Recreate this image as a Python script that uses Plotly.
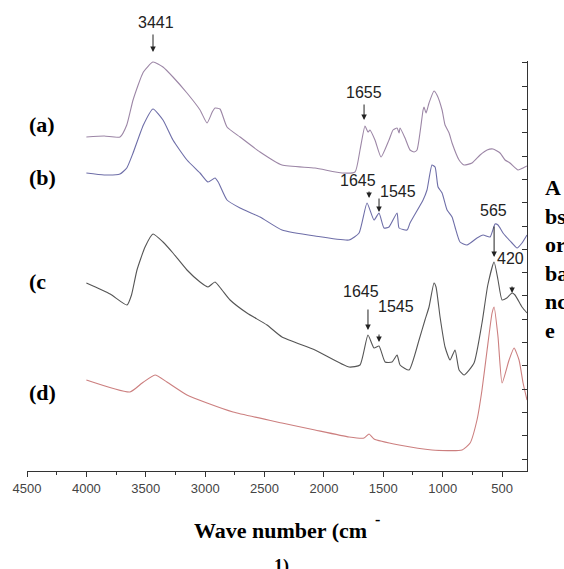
import plotly.graph_objects as go

# ---- data (wavenumber cm^-1, absorbance in arbitrary offset units) ----
wn_a = [4000, 3850, 3717, 3660, 3607, 3520, 3439, 3355, 3271, 3153, 3043, 2984, 2940, 2917, 2875, 2816, 2706, 2538, 2353,
        2075, 1847, 1738, 1696, 1654, 1629, 1612, 1570, 1519, 1452, 1418, 1384, 1367, 1359, 1317, 1275, 1241, 1216,
        1165, 1157, 1140, 1115, 1073, 1048, 1005, 980, 946, 921, 862, 820, 753, 685, 626, 576, 517, 475, 433, 365, 323, 290]
ab_a = [33.4, 33.5, 33.4, 34.6, 37.1, 39.9, 40.9, 40.4, 39.4, 37.8, 36.1, 34.8, 35.9, 36.3, 36.2, 34.4, 33.4, 31.9, 30.6,
        30.3, 29.8, 29.9, 32.1, 34.5, 33.9, 34.1, 33.1, 31.4, 33.1, 34.1, 34.3, 33.8, 34.3, 33.3, 32.1, 31.9, 32.1,
        36.1, 36.4, 35.8, 36.8, 38.0, 37.6, 36.1, 34.6, 33.8, 32.8, 31.1, 30.6, 30.8, 31.6, 32.1, 32.2, 31.8, 31.1, 30.8, 30.1, 30.3, 30.5]

wn_b = [4000, 3850, 3717, 3660, 3607, 3520, 3439, 3355, 3271, 3153, 3043, 2976, 2917, 2890, 2816, 2706, 2538, 2353,
        2075, 1788, 1704, 1637, 1578, 1536, 1494, 1452, 1384, 1367, 1300, 1275, 1165, 1132, 1090, 1064, 1039, 1005,
        963, 921, 896, 854, 795, 711, 660, 601, 559, 534, 492, 416, 374, 332, 290]
ab_b = [29.8, 29.6, 29.7, 30.3, 31.8, 34.6, 36.2, 35.1, 33.1, 31.1, 29.8, 28.9, 29.3, 28.9, 27.1, 26.3, 25.4, 24.1,
        23.5, 23.1, 23.8, 26.8, 25.1, 25.8, 24.3, 24.4, 25.8, 24.3, 24.1, 24.8, 27.1, 28.1, 30.6, 30.4, 28.4, 27.8,
        26.1, 25.4, 24.4, 22.9, 22.6, 23.3, 23.6, 23.4, 24.7, 24.6, 23.8, 22.8, 22.3, 22.8, 23.6]

wn_c = [4000, 3800, 3658, 3620, 3574, 3506, 3439, 3355, 3271, 3153, 3043, 2976, 2917, 2858, 2790, 2648, 2479, 2353,
        2075, 1788, 1696, 1629, 1578, 1536, 1485, 1426, 1384, 1359, 1283, 1199, 1149, 1115, 1073, 1056, 1022, 980,
        938, 896, 862, 820, 736, 669, 620, 567, 534, 500, 460, 416, 391, 332, 290]
ab_c = [18.8, 17.7, 16.6, 17.6, 20.1, 22.4, 23.7, 22.9, 21.8, 20.1, 18.9, 18.4, 18.9, 18.1, 17.1, 15.8, 14.6, 13.4,
        12.1, 10.4, 10.6, 13.6, 12.3, 12.5, 10.9, 10.9, 11.6, 10.6, 10.1, 13.1, 15.1, 16.4, 18.8, 18.4, 15.4, 12.4,
        11.1, 12.1, 10.1, 9.6, 10.8, 14.8, 18.6, 20.9, 19.1, 17.1, 17.3, 17.8, 17.6, 16.4, 15.8]

wn_d = [4000, 3633, 3530, 3422, 3322, 3153, 2984, 2765, 2353, 2075, 1788, 1662, 1620, 1578, 1367, 1090, 837, 769,
        711, 669, 626, 584, 567, 534, 500, 441, 399, 357, 323, 290]
ab_d = [9.1, 7.9, 8.8, 9.6, 8.9, 7.6, 6.8, 5.9, 4.8, 4.1, 3.4, 3.3, 3.7, 3.2, 2.6, 2.1, 2.1, 2.8,
        5.1, 8.1, 12.1, 15.8, 16.4, 13.4, 8.8, 11.1, 12.3, 11.1, 8.8, 7.1]

# peak labels: (text, text x, text y) and arrows: (tip x, tip y, length px)
peak_text = ["1655", "1645", "1545", "565", "420", "1645", "1545"]
peak_tx = [1662, 1713, 1376, 576, 433, 1687, 1393]
peak_ty = [37.9, 29.1, 28.0, 26.1, 21.3, 18.0, 16.5]
arrow_x = [1662, 1620, 1536, 567, 416, 1629, 1536]
arrow_y = [35.1, 27.3, 25.9, 21.4, 17.8, 14.1, 12.9]
arrow_len = [17, 8, 15, 32, 8, 22, 9]
# the 3441 label sits above the plotting area (paper coordinates)
top_peak_text = "3441"
top_peak_tx, top_peak_ty = 0.258, 1.095
top_arrow_x, top_arrow_y, top_arrow_len = 0.252, 1.022, 19

sample_labels = ["(a)", "(b)", "(c", "(d)"]
sample_label_y = [34.7, 29.4, 19.0, 7.9]

x_ticks = [4500, 4000, 3500, 3000, 2500, 2000, 1500, 1000, 500]

colors = ["#9c86a6", "#6e6ea8", "#555555", "#cc7f7f"]

fig = go.Figure()
for wn, ab, col in zip([wn_a, wn_b, wn_c, wn_d], [ab_a, ab_b, ab_c, ab_d], colors):
    fig.add_trace(go.Scatter(x=wn, y=ab, mode="lines",
                             line=dict(color=col, width=1.1, shape="spline", smoothing=0.5),
                             showlegend=False, hoverinfo="skip", cliponaxis=False))

num_font = dict(family="Liberation Sans, Arial", size=16, color="#222")
serif = dict(family="Liberation Serif", size=22, color="#000")

ann = []
for t, tx, ty in zip(peak_text, peak_tx, peak_ty):
    ann.append(dict(x=tx, y=ty, text=t, showarrow=False, font=num_font,
                    xanchor="center", yanchor="middle"))
for axv, ayv, ln in zip(arrow_x, arrow_y, arrow_len):
    ann.append(dict(x=axv, y=ayv, text="", showarrow=True, ax=0, ay=-ln,
                    arrowhead=2, arrowsize=1.1, arrowwidth=1, arrowcolor="#222", standoff=0))
ann.append(dict(x=top_peak_tx, y=top_peak_ty, xref="paper", yref="paper", text=top_peak_text,
                xanchor="center", yanchor="middle", showarrow=False, font=num_font))
ann.append(dict(x=top_arrow_x, y=top_arrow_y, xref="paper", yref="paper", text="", showarrow=True,
                ax=0, ay=-top_arrow_len, arrowhead=2, arrowsize=1.1, arrowwidth=1, arrowcolor="#222", standoff=0))
for t, ty in zip(sample_labels, sample_label_y):
    ann.append(dict(x=0.0, xref="paper", xanchor="left", y=ty, yref="y", yanchor="middle",
                    text="<b>" + t + "</b>", showarrow=False, font=serif))
# axis titles
ann.append(dict(x=1.032, y=0.517, xref="paper", yref="paper", xanchor="left", yanchor="middle",
                text="<b>A<br>bs<br>or<br>ba<br>nc<br>e</b>", align="left", showarrow=False, font=serif))
ann.append(dict(x=0.506, y=-0.144, xref="paper", yref="paper", xanchor="center", yanchor="middle",
                text="<b>Wave number (cm</b>", showarrow=False, font=serif))
ann.append(dict(x=0.70, y=-0.118, xref="paper", yref="paper", xanchor="center", yanchor="middle",
                text="<b>-</b>", showarrow=False, font=dict(family="Liberation Serif", size=16, color="#000")))
ann.append(dict(x=0.508, y=-0.232, xref="paper", yref="paper", xanchor="center", yanchor="middle",
                text="<b>1)</b>", showarrow=False, font=dict(family="Liberation Serif", size=18, color="#000")))

fig.update_layout(
    width=564, height=569,
    margin=dict(l=27, r=37, t=61, b=98, autoexpand=False),
    paper_bgcolor="white", plot_bgcolor="white",
    annotations=ann,
    xaxis=dict(range=[4500, 290], tickvals=x_ticks, ticktext=[str(v) for v in x_ticks],
               showline=True, linecolor="#333", linewidth=1.3, mirror=False,
               ticks="outside", ticklen=5, tickcolor="#333", tickwidth=1.2,
               minor=dict(ticks="outside", ticklen=3, dtick=250, tick0=250, tickcolor="#333", tickwidth=1.2),
               showgrid=False, zeroline=False,
               tickfont=dict(family="Liberation Sans, Arial", size=13, color="#444")),
    yaxis=dict(range=[0, 41], side="right", showline=True, linecolor="#333", linewidth=1.3,
               ticks="inside", ticklen=5, tickcolor="#333", tickwidth=1.2,
               tick0=1.2, dtick=2.33, showticklabels=False, showgrid=False, zeroline=False),
)

fig.write_html("out.html", config={"displayModeBar": False},
               post_script="document.body.style.margin='0px';")
